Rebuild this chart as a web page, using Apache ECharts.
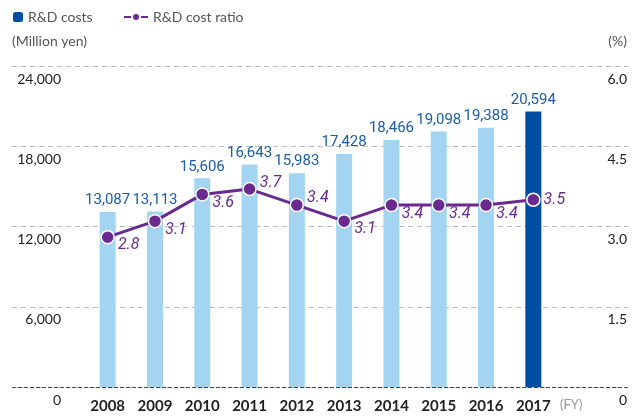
<!DOCTYPE html>
<html>
<head>
<meta charset="utf-8">
<script src="https://cdn.jsdelivr.net/npm/echarts@6/dist/echarts.min.js"></script>
<style>
  html, body { margin: 0; padding: 0; background: #fff; }
  #chart { width: 638px; height: 417px; }
</style>
</head>
<body>
<div id="chart"></div>
<script>
var years = ['2008', '2009', '2010', '2011', '2012', '2013', '2014', '2015', '2016', '2017'];
var costs = [13087, 13113, 15606, 16643, 15983, 17428, 18466, 19098, 19388, 20594];
var ratio = [2.8, 3.1, 3.6, 3.7, 3.4, 3.1, 3.4, 3.4, 3.4, 3.5];
var leftTicks = [0, 24000, 6000];   // min, max, interval
var rightTicks = [0, 6, 1.5];

var lightBlue = '#a3d4f2';
var darkBlue = '#004ea2';
var purple = '#69298f';
var gray = '#555';

var myChart = echarts.init(document.getElementById('chart'));

var barData = [];
for (var i = 0; i < costs.length; i++) {
	barData.push({
		value: costs[i],
		itemStyle: { color: i == costs.length - 1 ? darkBlue : lightBlue }
	});
}

// vertical nudge of each ratio label (below / above the point)
var ratioLabelDy = [8, 9, 9, -6, -7, 8, 9, 9, 9, 0];
var lineData = [];
for (var j = 0; j < ratio.length; j++) {
	lineData.push({
		value: ratio[j],
		label: { offset: [0, ratioLabelDy[j]] }
	});
}

var option = {
	animation: false,
	textStyle: { fontFamily: 'Lato, "Open Sans", sans-serif' },
	legend: [{
		left: 8, top: 5,
		itemWidth: 10, itemHeight: 10, itemGap: 6,
		data: ['R&D costs'],
		textStyle: { color: gray, fontSize: 14 }
	}, {
		left: 118, top: 5,
		itemWidth: 24, itemHeight: 10,
		data: ['R&D cost ratio'],
		textStyle: { color: gray, fontSize: 14 }
	}],
	graphic: [{
		type: 'text', left: 12, top: 34,
		style: { text: '(Million yen)', fill: gray, fontSize: 14, fontFamily: 'Lato, sans-serif' }
	}, {
		type: 'text', right: 11, top: 34,
		style: { text: '(%)', fill: gray, fontSize: 14, fontFamily: 'Lato, sans-serif' }
	}, {
		type: 'text', left: 560, top: 398,
		style: { text: '(FY)', fill: '#999', fontSize: 13, fontFamily: 'Lato, sans-serif' }
	}],
	grid: [
		// wide grid only for the dashed lines
		{ left: 12, right: 10, top: 66, bottom: 30 },
		// grid for the bars and the line
		{ left: 84, right: 81, top: 66, bottom: 30 }
	],
	xAxis: [{
		gridIndex: 0, type: 'value', show: false
	}, {
		gridIndex: 1,
		type: 'category',
		data: years,
		axisTick: { show: false },
		axisLine: { show: false },
		axisLabel: {
			color: '#222', fontSize: 15, fontWeight: 'bold', margin: 12
		}
	}],
	yAxis: [{
		gridIndex: 0, type: 'value',
		min: leftTicks[0], max: leftTicks[1], interval: leftTicks[2],
		axisLabel: { show: false },
		axisLine: { show: false }, axisTick: { show: false },
		splitLine: { lineStyle: { color: '#bbb', type: [5, 4], width: 1 } }
	}, {
		gridIndex: 1, type: 'value',
		min: leftTicks[0], max: leftTicks[1], interval: leftTicks[2],
		splitLine: { show: false },
		axisLine: { show: false }, axisTick: { show: false },
		axisLabel: {
			color: '#222', fontSize: 14, margin: 23,
			verticalAlign: 'top', padding: [6, 0, 0, 0],
			formatter: function(v) { return v.toLocaleString('en-US'); }
		}
	}, {
		gridIndex: 1, type: 'value', position: 'right',
		min: rightTicks[0], max: rightTicks[1], interval: rightTicks[2],
		splitLine: { show: false },
		axisLine: { show: false }, axisTick: { show: false },
		axisLabel: {
			color: '#222', fontSize: 14, margin: 70, align: 'right',
			verticalAlign: 'top', padding: [6, 0, 0, 0],
			formatter: function(v) { return v == 0 ? '0' : v.toFixed(1); }
		}
	}],
	series: [{
		// bottom base line
		type: 'line', xAxisIndex: 0, yAxisIndex: 0,
		data: [], markLine: {
			silent: true, symbol: 'none', label: { show: false },
			lineStyle: { color: '#444', type: [4, 2], width: 1 },
			data: [{ yAxis: 0 }]
		}
	}, {
		name: 'R&D costs',
		type: 'bar',
		xAxisIndex: 1, yAxisIndex: 1,
		barWidth: 16,
		color: darkBlue,
		data: barData,
		label: {
			show: true, position: 'top', distance: 4,
			color: '#1a5dab', fontSize: 15, fontFamily: 'Roboto, sans-serif',
			formatter: function(p) { return p.value.toLocaleString('en-US'); }
		}
	}, {
		name: 'R&D cost ratio',
		type: 'line',
		xAxisIndex: 1, yAxisIndex: 2,
		data: lineData,
		color: purple,
		symbol: 'circle', symbolSize: 13,
		lineStyle: { width: 3, color: purple },
		itemStyle: { color: purple, borderColor: '#fff', borderWidth: 1.5 },
		z: 5,
		label: {
			show: true, position: 'right', distance: 3,
			color: purple, fontSize: 16, fontStyle: 'italic', fontFamily: 'Roboto, sans-serif',
			formatter: function(p) { return p.value.toFixed(1); }
		}
	}]
};
myChart.setOption(option);
</script>
</body>
</html>
